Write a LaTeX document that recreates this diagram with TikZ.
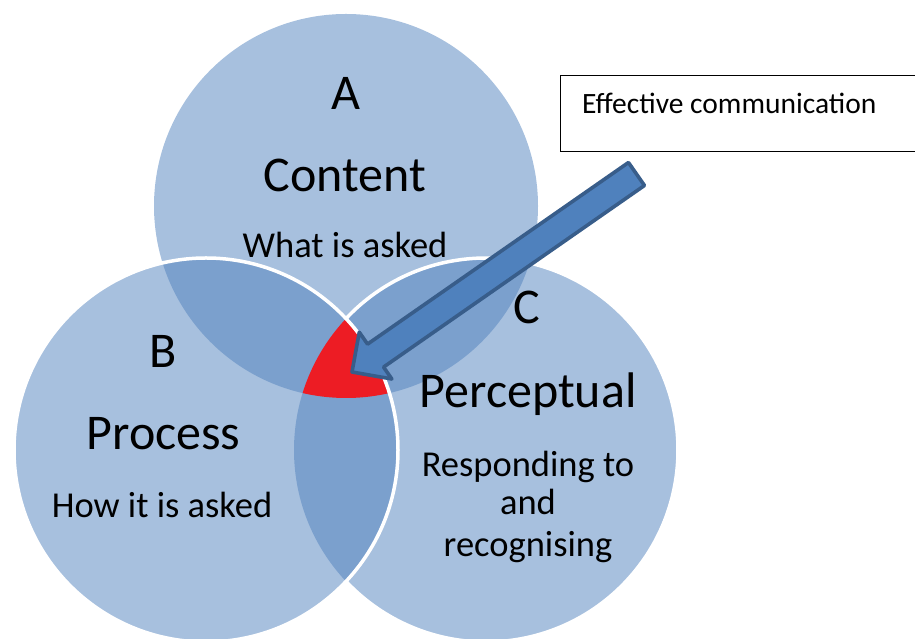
\documentclass[tikz,border=0pt]{standalone}
\usepackage{fontspec}
\setmainfont{Carlito}
\usetikzlibrary{calc}
\definecolor{vennlight}{HTML}{A7C0DE}
\definecolor{venndark}{HTML}{7BA0CD}
\definecolor{corered}{HTML}{ED1C24}
\definecolor{arrowfill}{HTML}{4F81BD}
\definecolor{arrowline}{HTML}{385D8A}
\begin{document}
\begin{tikzpicture}[x=1pt,y=1pt,
  title/.style={font=\fontsize{50}{60}\selectfont, anchor=base, inner sep=0pt, text=black},
  sub/.style={font=\fontsize{36.5}{44}\selectfont, anchor=base, inner sep=0pt, text=black},
  rim/.style={draw=white, line width=3.5pt},
  blockarrow/.style={draw=arrowline, fill=arrowfill, line width=3.6pt, line join=round},
  callout/.style={draw=black, line width=1.3pt, fill=white, anchor=north west, inner sep=0pt}]
\useasboundingbox (0,0) rectangle (915,639);
\def\R{192}
\coordinate (cA) at (346,433);
\coordinate (cB) at (206,189);
\coordinate (cC) at (486,189);

% three discs
\fill[vennlight] (cA) circle (\R);
\fill[vennlight] (cB) circle (\R);
\fill[vennlight] (cC) circle (\R);

% pairwise overlaps
\begin{scope}
  \clip (cA) circle (\R);
  \fill[venndark] (cB) circle (\R);
  \fill[venndark] (cC) circle (\R);
\end{scope}
\begin{scope}
  \clip (cB) circle (\R);
  \fill[venndark] (cC) circle (\R);
\end{scope}

% common core of all three
\begin{scope}
  \clip (cA) circle (\R);
  \clip (cB) circle (\R);
  \fill[corered] (cC) circle (\R);
\end{scope}

% labels of circle A
\node[title] (labA) at (346,529) {A};
\node[title] (labContent) at (345,447) {Content};
\node[sub] (labWhat) at (345,381) {What is asked};

% white rims
\draw[rim] (cB) circle (\R);
\draw[rim] ($(cC)+(136.8:\R)$) arc[start angle=136.8, end angle=-136.8, radius=\R];

% labels of circles B and C
\node[title] (labB) at (163.5,271) {B};
\node[title] (labProcess) at (163.5,189) {Process};
\node[sub] (labHow) at (162,121) {How it is asked};
\node[title] (labC) at (527,315) {C};
\node[title] (labPerc) at (528,231) {Perceptual};
\node[sub] (labResp) at (528,162) {Responding to};
\node[sub] (labAnd) at (528,124) {and};
\node[sub] (labRec) at (528,82) {recognising};

% callout box
\node[callout, minimum width=380pt, minimum height=76pt] (box) at (560,564) {};
\node[font=\fontsize{29.5}{35}\selectfont, anchor=base west, inner sep=0pt] (boxtext) at (582,525) {Effective communication};

% block arrow pointing into the core
\coordinate (tip) at (352,267);
\coordinate (tail) at (636.5,465);
\begin{scope}[shift={(tip)}, rotate=34.84]
  \draw[blockarrow] (0,0) -- (28.7,28.5) -- (28.7,14) -- (346.6,14)
    -- (346.6,-14) -- (28.7,-14) -- (28.7,-28.5) -- cycle;
\end{scope}
\end{tikzpicture}
\end{document}
